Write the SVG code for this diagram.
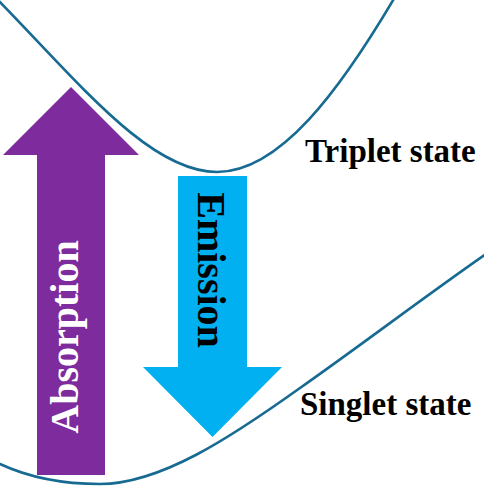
<svg xmlns="http://www.w3.org/2000/svg" width="484" height="490" viewBox="0 0 484 490">
<style>
.curve{fill:none;stroke:#176a91;stroke-width:2.6;stroke-linecap:round}
.lbl{font-family:"Liberation Serif","Times New Roman",serif;font-weight:bold}
</style>
<rect width="484" height="490" fill="#ffffff"/>
<g id="curves">
<path id="triplet-curve" class="curve" d="M-2,0 C80,84 150,172 217,172 C280,172 340,90 395,-3"/>
<path id="singlet-curve" class="curve" d="M0,464 C30,478 65,484 100,484 C160,484 230,438 300,388 C360,346 420,300 486,254"/>
</g>
<g id="absorption">
<polygon points="71,87 139,155 105,155 105,475 37,475 37,155 3,155" fill="#7e2b9e"/>
<text class="lbl" transform="translate(78,337) rotate(-90)" text-anchor="middle" font-size="40" fill="#ffffff">Absorption</text>
</g>
<g id="emission">
<polygon points="178,176 247,176 247,367 282,367 212.5,437 143,367 178,367" fill="#00b0f0"/>
<text class="lbl" transform="translate(198,270) rotate(90)" text-anchor="middle" font-size="40" fill="#000000">Emission</text>
</g>
<g id="labels">
<text class="lbl" x="305" y="162" font-size="33" fill="#000000">Triplet state</text>
<text class="lbl" x="300" y="415" font-size="33" fill="#000000">Singlet state</text>
</g>
</svg>
